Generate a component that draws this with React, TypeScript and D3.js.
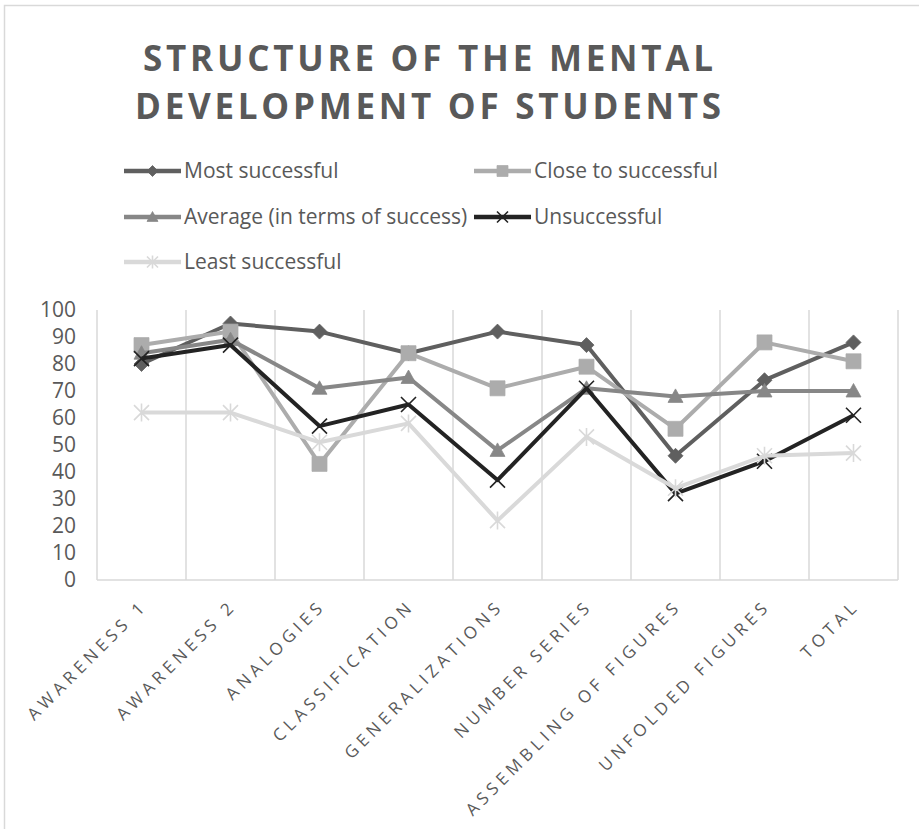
import React, { useEffect, useRef } from "react";
import * as d3 from "d3";

const categories = [
  "AWARENESS 1",
  "AWARENESS 2",
  "ANALOGIES",
  "CLASSIFICATION",
  "GENERALIZATIONS",
  "NUMBER SERIES",
  "ASSEMBLING OF FIGURES",
  "UNFOLDED FIGURES",
  "TOTAL",
];

const seriesNames = [
  "Most successful",
  "Close to successful",
  "Average (in terms of success)",
  "Unsuccessful",
  "Least successful",
];

const mostSuccessful = [80, 95, 92, 84, 92, 87, 46, 74, 88];
const closeToSuccessful = [87, 92, 43, 84, 71, 79, 56, 88, 81];
const averageSuccess = [84, 89, 71, 75, 48, 71, 68, 70, 70];
const unsuccessful = [82, 87, 57, 65, 37, 71, 32, 44, 61];
const leastSuccessful = [62, 62, 51, 58, 22, 53, 34, 46, 47];

const titleLines = ["STRUCTURE OF THE MENTAL", "DEVELOPMENT OF STUDENTS"];

const width = 919;
const height = 829;
const textColor = "#595959";
const gridColor = "#d9d9d9";
const font = "'Open Sans', 'Noto Sans', sans-serif";

const colors = ["#5f5f5f", "#acacac", "#878787", "#232323", "#d9d9d9"];
const markers = ["diamond", "square", "triangle", "x", "star"];

// marker path centred at 0,0 with half size r
function markerPath(kind: string, r: number) {
  switch (kind) {
    case "diamond":
      return `M0,${-r}L${r},0L0,${r}L${-r},0Z`;
    case "square":
      return `M${-r},${-r}H${r}V${r}H${-r}Z`;
    case "triangle":
      return `M0,${-r}L${r},${r * 0.8}L${-r},${r * 0.8}Z`;
    case "x":
      return `M${-r},${-r}L${r},${r}M${-r},${r}L${r},${-r}`;
    default:
      return `M${-r},${-r}L${r},${r}M${-r},${r}L${r},${-r}M0,${-r * 1.2}V${r * 1.2}`;
  }
}

function drawMarker(g: any, kind: string, color: string, r: number) {
  const filled = kind !== "x" && kind !== "star";
  g.append("path")
    .attr("d", markerPath(kind, r))
    .attr("fill", filled ? color : "none")
    .attr("stroke", color)
    .attr("stroke-width", filled ? 0.75 : 1.6);
}

const App = () => {
  const ref = useRef<SVGSVGElement>(null);

  useEffect(() => {
    const svg = d3.select(ref.current);
    svg.selectAll("*").remove();

    const allSeries = [
      mostSuccessful,
      closeToSuccessful,
      averageSuccess,
      unsuccessful,
      leastSuccessful,
    ];

    const x = d3.scaleBand().domain(categories).range([97, 898]);
    const y = d3.scaleLinear().domain([0, 100]).range([580, 310]);
    const cx = (c: string) => (x(c) as number) + x.bandwidth() / 2;

    // chart frame
    svg
      .append("rect")
      .attr("x", 4.5)
      .attr("y", 5.5)
      .attr("width", width + 10)
      .attr("height", height + 10)
      .attr("fill", "#fff")
      .attr("stroke", gridColor)
      .attr("stroke-width", 1.5);

    // title
    svg
      .append("g")
      .selectAll("text")
      .data(titleLines)
      .join("text")
      .attr("x", 428)
      .attr("y", (_, i) => 71 + i * 48)
      .attr("text-anchor", "middle")
      .attr("textLength", (_, i) => (i === 0 ? 570 : 586))
      .attr("lengthAdjust", "spacing")
      .attr("font-family", font)
      .attr("font-weight", 700)
      .attr("font-size", 35)
      .attr("fill", textColor)
      .text((d) => d);

    // legend
    const legendPos = [
      [124, 171],
      [474, 171],
      [124, 217],
      [474, 217],
      [124, 262],
    ];
    seriesNames.forEach((name, i) => {
      const [lx, ly] = legendPos[i];
      const g = svg.append("g").attr("transform", `translate(${lx},${ly})`);
      g.append("line")
        .attr("x1", 0)
        .attr("x2", 57)
        .attr("stroke", colors[i])
        .attr("stroke-width", 4.5);
      drawMarker(
        g.append("g").attr("transform", "translate(28.5,0)"),
        markers[i],
        colors[i],
        5.5
      );
      g.append("text")
        .attr("x", 60)
        .attr("dy", "0.35em")
        .attr("font-family", font)
        .attr("font-size", 21)
        .attr("fill", textColor)
        .text(name);
    });

    // vertical gridlines at category boundaries
    const bounds = [...categories.map((c) => x(c) as number), 898];
    svg
      .append("g")
      .selectAll("line")
      .data(bounds)
      .join("line")
      .attr("x1", (d) => d)
      .attr("x2", (d) => d)
      .attr("y1", y(100))
      .attr("y2", y(0))
      .attr("stroke", gridColor)
      .attr("stroke-width", 1.5);

    // x axis line
    svg
      .append("line")
      .attr("x1", 97)
      .attr("x2", 898)
      .attr("y1", y(0))
      .attr("y2", y(0))
      .attr("stroke", gridColor)
      .attr("stroke-width", 1.5);

    // y tick labels
    svg
      .append("g")
      .selectAll("text")
      .data(y.ticks(10))
      .join("text")
      .attr("x", 76)
      .attr("y", (d) => y(d))
      .attr("dy", "0.35em")
      .attr("text-anchor", "end")
      .attr("font-family", font)
      .attr("font-size", 21)
      .attr("fill", textColor)
      .text((d) => d);

    // x tick labels
    svg
      .append("g")
      .selectAll("text")
      .data(categories)
      .join("text")
      .attr("transform", (d) => `translate(${cx(d) + 7},${607}) rotate(-45)`)
      .attr("text-anchor", "end")
      .attr("font-family", font)
      .attr("font-size", 17)
      .attr("letter-spacing", 4.5)
      .attr("fill", textColor)
      .text((d) => d);

    // series
    const line = d3
      .line<number>()
      .x((_, i) => cx(categories[i]))
      .y((d) => y(d));

    allSeries.forEach((values, s) => {
      const g = svg.append("g");
      g.append("path")
        .attr("d", line(values))
        .attr("fill", "none")
        .attr("stroke", colors[s])
        .attr("stroke-width", 4)
        .attr("stroke-linejoin", "round");
      values.forEach((v, i) => {
        drawMarker(
          g
            .append("g")
            .attr("transform", `translate(${cx(categories[i])},${y(v)})`),
          markers[s],
          colors[s],
          7.5
        );
      });
    });
  }, []);

  return (
    <svg
      ref={ref}
      width={width}
      height={height}
      style={{ position: "absolute", left: 0, top: 0, background: "#fff" }}
    />
  );
};

export default App;
